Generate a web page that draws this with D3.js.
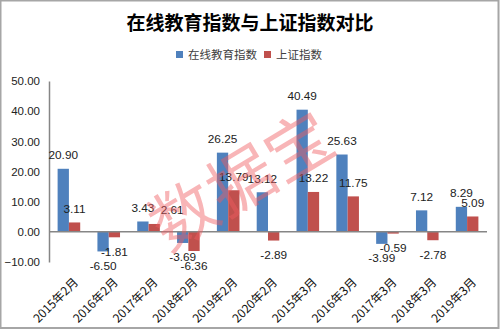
<!DOCTYPE html>
<html>
<head>
<meta charset="utf-8">
<script src="https://cdn.jsdelivr.net/npm/d3@7"></script>
<style>
  html, body { margin: 0; padding: 0; background: #fff; }
  svg { display: block; }
</style>
</head>
<body>
<svg id="chart" width="500" height="330"></svg>
<script>
// Categories and the two index series
const categories = ["2015年2月", "2016年2月", "2017年2月", "2018年2月", "2019年2月", "2020年2月",
                    "2015年3月", "2016年3月", "2017年3月", "2018年3月", "2019年3月"];
const onlineEdu = [20.90, -6.50, 3.43, -3.69, 26.25, 13.12, 40.49, 25.63, -3.99, 7.12, 8.29];
const shanghai  = [3.11, -1.81, 2.61, -6.36, 13.79, -2.89, 13.22, 11.75, -0.59, -2.78, 5.09];
const yTicks = [-10, 0, 10, 20, 30, 40, 50];
const seriesNames = ["在线教育指数", "上证指数"];
const colors = ["#4f81bd", "#c0504d"];

const W = 500, H = 330;
const svg = d3.select("#chart");

// outer frame
svg.append("rect").attr("x", 0.5).attr("y", 0.5).attr("width", W - 2).attr("height", H - 2.5)
  .attr("fill", "#fff").attr("stroke", "#a6a6a6").attr("stroke-width", 2);

const plot = { left: 49, right: 487, top: 81, bottom: 262 };

const x = d3.scaleBand().domain(categories).range([plot.left, plot.right]).paddingInner(0).paddingOuter(0);
const barW = 11.3;
const y = d3.scaleLinear().domain([-10, 50]).range([plot.bottom, plot.top]);

// title
svg.append("text").attr("x", 250).attr("y", 30).attr("text-anchor", "middle")
  .attr("font-family", "'Noto Sans CJK SC'").attr("font-weight", "bold").attr("font-size", 19)
  .attr("fill", "#000").text("在线教育指数与上证指数对比");

// legend
const legend = svg.append("g").attr("font-family", "'Noto Sans CJK SC'").attr("font-size", 11.5);
const legendItems = [{ x: 176, name: seriesNames[0], c: colors[0] }, { x: 264, name: seriesNames[1], c: colors[1] }];
legendItems.forEach(d => {
  legend.append("rect").attr("x", d.x).attr("y", 51).attr("width", 7).attr("height", 7).attr("fill", d.c);
  legend.append("text").attr("x", d.x + 12).attr("y", 58.5).attr("fill", "#404040").text(d.name);
});

// y axis
const yAxis = d3.axisLeft(y).tickValues(yTicks).tickSize(0).tickPadding(9).tickFormat(d3.format(".2f"));
const yg = svg.append("g").attr("transform", `translate(${plot.left},0)`).call(yAxis);
yg.select(".domain").attr("stroke", "#868686").attr("stroke-width", 1.5);
yg.selectAll("text").attr("font-family", "'Liberation Sans', Arial").attr("font-size", 11.5).attr("fill", "#222");

// bars
const groups = svg.append("g");
const series = [onlineEdu, shanghai];
const barX = (i, si) => x(categories[i]) + x.bandwidth() / 2 - barW + si * barW;
series.forEach((vals, si) => {
  groups.selectAll(null).data(vals).enter().append("rect")
    .attr("x", (d, i) => barX(i, si))
    .attr("width", barW)
    .attr("y", d => y(Math.max(0, d)))
    .attr("height", d => Math.abs(y(d) - y(0)))
    .attr("fill", colors[si]);
});

// zero baseline
svg.append("line").attr("x1", plot.left).attr("x2", plot.right).attr("y1", y(0)).attr("y2", y(0))
  .attr("stroke", "#868686").attr("stroke-width", 1.5);

// value labels; one label sits to the right of its bar to clear its neighbour
const labelShift = { "1-2": 18 };
const labels = svg.append("g").attr("font-family", "'Liberation Sans', Arial").attr("font-size", 11.8)
  .attr("fill", "#222").attr("text-anchor", "middle");
series.forEach((vals, si) => {
  labels.selectAll(null).data(vals).enter().append("text")
    .attr("x", (d, i) => barX(i, si) + barW / 2 + (labelShift[si + "-" + i] || 0))
    .attr("y", d => d >= 0 ? y(d) - 9.5 : y(d) + 18.5)
    .text(d => d.toFixed(2));
});

// category labels, rotated
const xl = svg.append("g").attr("font-family", "'Noto Sans CJK SC'").attr("font-size", 12).attr("fill", "#111");
categories.forEach(c => {
  const cx = x(c) + x.bandwidth() / 2 + 10;
  xl.append("text").attr("text-anchor", "end")
    .attr("transform", `translate(${cx},${plot.bottom + 21}) rotate(-45)`)
    .text(c);
});

// watermark
svg.append("text").attr("transform", "translate(254,201) rotate(-31)")
  .attr("text-anchor", "middle").attr("font-family", "'Noto Sans CJK SC'").attr("font-size", 66)
  .attr("letter-spacing", 1).attr("fill", "rgba(240,90,95,0.45)").text("数据宝");
</script>
</body>
</html>
